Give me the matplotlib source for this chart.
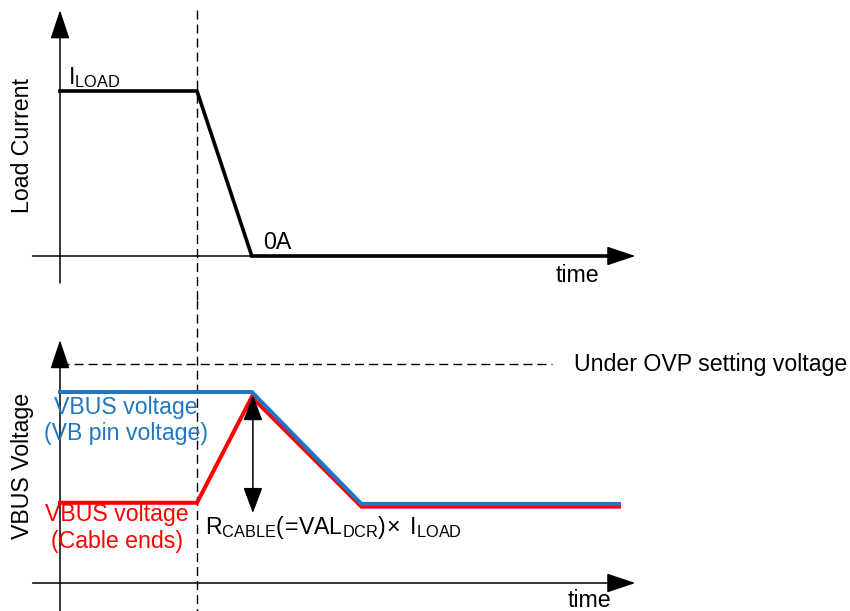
import numpy as np
import matplotlib
matplotlib.use("Agg")
import matplotlib.pyplot as plt

plt.rcParams['font.family'] = ['Liberation Sans', 'DejaVu Sans']
plt.rcParams['mathtext.fontset'] = 'custom'
plt.rcParams['mathtext.rm'] = 'Liberation Sans'
plt.rcParams['mathtext.it'] = 'Liberation Sans'

# time points (arbitrary units)
t_load = [0, 2.5, 3.5, 10.0]
i_load = [1.0, 1.0, 0.0, 0.0]

t_vb = [0, 3.5, 5.5, 10.2]
v_vb = [5.0, 5.0, 2.07, 2.07]          # VB pin voltage
t_cable = [0, 2.5, 3.5, 5.5, 10.2]
v_cable = [2.1, 2.1, 4.87, 2.0, 2.0]   # cable end voltage

t_event = 2.5
v_ovp = 5.73
t_drop = 3.52
drop_top, drop_bot = 4.92, 1.83

blue = '#1f77c4'
red = '#ff0000'
fs = 16.7

fig = plt.figure(figsize=(8.5, 6.11), dpi=100)
ax1 = fig.add_axes([0, 1 - 300 / 611, 1, 300 / 611])
ax2 = fig.add_axes([0, 0, 1, 311 / 611])

xlim = (-60 / 54.8, 790 / 54.8)
ax1.set_xlim(xlim)
ax1.set_ylim(-44 / 165, 256 / 165)
ax2.set_xlim(xlim)
ax2.set_ylim(-28 / 38.2, 283 / 38.2)
for ax in (ax1, ax2):
    ax.axis('off')

arrow = dict(arrowstyle='-|>,head_length=0.9,head_width=0.3', mutation_scale=20,
             color='k', lw=1.1, shrinkA=0, shrinkB=0)

# top panel: load current
ax1.annotate('', xy=(0, 1.49), xytext=(0, -0.164), arrowprops=arrow)
ax1.annotate('', xy=(10.5, 0), xytext=(-0.5, 0), arrowprops=arrow)
ax1.plot(t_load, i_load, color='k', lw=2.6, solid_joinstyle='miter', zorder=3)
ax1.plot([t_event, t_event], [1.49, -0.267], color='k', lw=1, dashes=(6.5, 3.6))
ax1.text(0.14, 1.04, r'$\mathregular{I_{LOAD}}$', fontsize=fs, ha='left', va='baseline')
ax1.text(3.7, 0.04, '0A', fontsize=fs, ha='left', va='baseline')
ax1.text(9.45, -0.16, 'time', fontsize=fs, ha='center', va='baseline')
ax1.text(-0.69, 0.67, 'Load Current', fontsize=fs, rotation=90, ha='center', va='center')

# bottom panel: VBUS voltage
ax2.annotate('', xy=(0, 6.36), xytext=(0, -0.733), arrowprops=arrow)
ax2.annotate('', xy=(10.5, 0), xytext=(-0.5, 0), arrowprops=arrow)
ax2.plot([t_event, t_event], [7.408, -0.733], color='k', lw=1, dashes=(6.5, 3.6))
ax2.plot([0, 8.98], [v_ovp, v_ovp], color='k', lw=1, dashes=(6.5, 3.6))
ax2.text(9.38, v_ovp, 'Under OVP setting voltage', fontsize=fs, ha='left', va='center')

ax2.plot(t_cable, v_cable, color=red, lw=2.9, solid_joinstyle='miter', zorder=3)
ax2.plot(t_vb, v_vb, color=blue, lw=2.9, solid_joinstyle='miter', zorder=4)

darrow = dict(arrowstyle='<|-|>,head_length=0.8,head_width=0.3', mutation_scale=20,
              color='k', lw=1.1, shrinkA=0, shrinkB=0)
ax2.annotate('', xy=(t_drop, drop_top), xytext=(t_drop, drop_bot), arrowprops=darrow)

ax2.text(1.2, 3.74, 'VBUS voltage\n(VB pin voltage)', fontsize=fs, color=blue,
         ha='center', va='baseline', linespacing=1.2)
ax2.text(1.04, 0.92, 'VBUS voltage\n(Cable ends)', fontsize=fs, color=red,
         ha='center', va='baseline', linespacing=1.2)
ax2.text(2.65, 1.29, r'$\mathregular{R_{CABLE}(\!=\!VAL_{DCR})\!\times\ I_{LOAD}}$',
         fontsize=fs, ha='left', va='baseline')
ax2.text(9.67, -0.63, 'time', fontsize=fs, ha='center', va='baseline')
ax2.text(-0.69, 3.06, 'VBUS Voltage', fontsize=fs, rotation=90, ha='center', va='center')

fig.savefig('out.png', dpi=100)
